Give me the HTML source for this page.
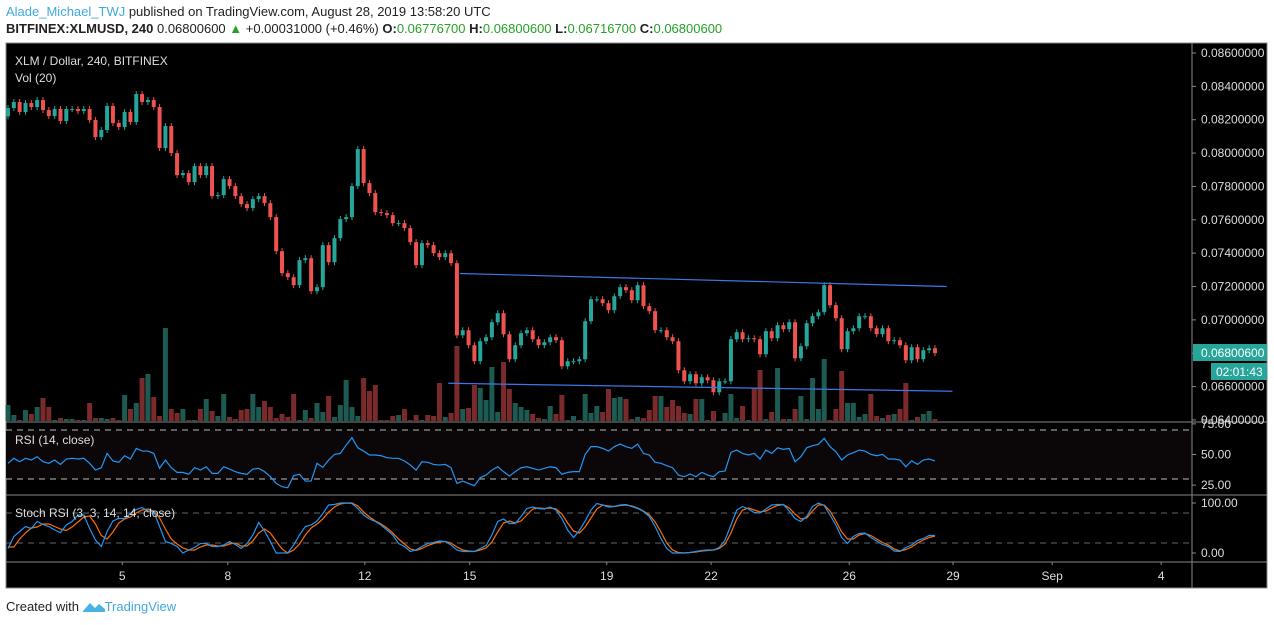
<!DOCTYPE html>
<html><head><meta charset="utf-8">
<style>
body{margin:0;width:1274px;height:625px;background:#fff;font-family:"Liberation Sans",sans-serif;overflow:hidden;position:relative}
.hdr{position:absolute;left:6px;font-size:13px;white-space:nowrap;color:#222}
.g{color:#27a027}
svg{position:absolute;left:0;top:0}
</style></head><body>
<div class="hdr" style="top:4px"><span style="color:#3fa9e0">Alade_Michael_TWJ</span> published on TradingView.com, August 28, 2019 13:58:20 UTC</div>
<div class="hdr" style="top:21px"><b>BITFINEX:XLMUSD, 240</b> 0.06800600 <span class="g">▲</span> +0.00031000 (+0.46%) <b>O:</b><span class="g">0.06776700</span> <b>H:</b><span class="g">0.06800600</span> <b>L:</b><span class="g">0.06716700</span> <b>C:</b><span class="g">0.06800600</span></div>
<svg id="chart" width="1274" height="625"></svg>
<div class="hdr" style="top:599px;font-size:13px">Created with <svg width="22" height="12" viewBox="0 0 22 12" style="position:relative;vertical-align:-1px"><path d="M0 11 L7 3 L12 8 L16 4 L22 9 L22 12 L0 12Z" fill="#49b3e6"/></svg><span style="color:#3fa9e0">TradingView</span></div>
<script>
const closes=[0.08270,0.08306,0.08246,0.08300,0.08276,0.08318,0.08258,0.08222,0.08264,0.08192,0.08264,0.08264,0.08252,0.08264,0.08198,0.08096,0.08138,0.08282,0.08180,0.08156,0.08246,0.08186,0.08354,0.08306,0.08318,0.08276,0.08030,0.08162,0.08000,0.07868,0.07880,0.07826,0.07922,0.07868,0.07922,0.07742,0.07748,0.07844,0.07802,0.07742,0.07694,0.07670,0.07724,0.07742,0.07700,0.07616,0.07412,0.07280,0.07256,0.07208,0.07358,0.07370,0.07172,0.07196,0.07448,0.07346,0.07490,0.07604,0.07616,0.07802,0.08024,0.07820,0.07760,0.07646,0.07640,0.07628,0.07580,0.07580,0.07550,0.07466,0.07328,0.07460,0.07448,0.07400,0.07376,0.07400,0.07340,0.06908,0.06938,0.06848,0.06752,0.06872,0.06896,0.06986,0.07040,0.06914,0.06764,0.06848,0.06920,0.06938,0.06884,0.06848,0.06866,0.06896,0.06878,0.06722,0.06752,0.06752,0.06764,0.06992,0.07124,0.07124,0.07100,0.07058,0.07142,0.07196,0.07178,0.07118,0.07208,0.07082,0.07052,0.06938,0.06938,0.06896,0.06872,0.06698,0.06632,0.06674,0.06620,0.06656,0.06638,0.06566,0.06632,0.06632,0.06884,0.06926,0.06884,0.06890,0.06884,0.06794,0.06932,0.06890,0.06968,0.06944,0.06986,0.06770,0.06842,0.06980,0.07022,0.07046,0.07208,0.07088,0.07010,0.06824,0.06932,0.06950,0.07022,0.07022,0.06950,0.06914,0.06950,0.06872,0.06878,0.06848,0.06758,0.06836,0.06764,0.06818,0.06830,0.068006];
const firstOpen=0.08220;
const volumes=[16,6,1,11,7,14,23,14,1,3,2,2,1,1,18,3,3,2,3,1,26,12,18,43,47,24,5,93,12,8,12,1,1,12,22,10,5,27,4,2,11,12,27,14,20,14,3,7,4,27,1,11,3,18,9,25,4,16,41,14,5,43,30,36,1,1,5,6,12,1,6,1,6,5,38,4,8,75,12,13,36,33,21,54,9,59,32,18,14,11,7,3,2,15,7,26,1,5,1,27,8,15,9,32,23,24,22,2,4,3,11,25,25,14,21,15,8,7,22,22,1,10,0,8,27,3,15,1,33,51,2,9,53,2,2,12,25,2,43,12,62,1,12,50,18,18,4,7,27,5,3,6,7,12,38,1,4,7,10,2];
const rsi=[42.8,46.9,44.1,46.9,45.5,48.2,44.1,42.8,45.5,41.9,46.3,46.9,46.3,46.9,42.8,37.3,39.2,50.9,44.7,43.6,49.0,46.3,55.0,52.8,52.8,50.9,38.7,45.5,39.2,35.4,35.4,33.8,39.2,37.3,40.0,34.6,34.6,40.0,38.1,36.0,34.6,33.8,38.1,38.7,36.0,31.9,26.4,23.7,22.9,32.7,33.8,28.3,28.3,42.8,39.5,45.5,50.1,50.9,57.7,63.7,55.5,52.8,49.6,49.6,49.0,47.4,46.9,46.9,44.7,41.4,37.3,44.1,43.6,41.9,41.4,41.9,39.2,26.4,28.3,26.4,24.5,31.1,33.2,37.3,40.0,36.0,32.4,36.0,39.2,40.0,38.7,37.3,38.7,40.0,39.2,33.8,35.4,36.0,36.0,50.1,56.4,56.4,55.0,52.8,56.4,58.5,56.4,55.0,58.5,50.9,49.6,43.6,42.8,40.9,39.2,33.2,31.9,34.1,31.9,35.4,33.2,31.9,36.0,36.5,51.7,53.6,50.9,49.6,50.9,46.3,53.6,50.9,55.5,54.2,55.0,44.1,48.2,55.5,57.2,58.3,63.2,56.4,52.3,45.5,49.6,51.5,53.6,52.8,50.1,49.0,50.1,46.3,46.3,45.5,40.0,44.9,41.9,45.5,46.3,44.7];
const stochK=[9,33,43,53,49,63,57,53,46,41,56,63,76,76,49,26,13,43,64,69,69,79,87,91,84,83,53,23,19,13,0,6,11,19,19,13,13,16,23,17,9,19,36,61,44,23,0,0,0,16,36,53,56,64,79,96,97,100,100,99,89,76,68,63,56,46,36,19,13,3,6,13,19,21,24,23,16,6,3,3,3,9,15,36,63,68,59,59,73,89,92,89,88,92,86,69,46,31,45,64,86,99,96,92,93,96,97,93,89,83,73,53,29,9,0,0,0,1,3,5,6,6,11,26,56,86,93,88,81,80,88,96,97,97,84,69,63,73,93,100,95,76,56,31,19,33,39,40,31,24,17,13,4,3,11,16,25,29,35,35];
const stochD=[12,12,28,40,50,52,58,58,53,48,45,52,62,72,74,58,35,28,42,60,68,72,80,86,88,84,70,48,28,18,10,6,6,12,16,16,14,14,18,20,14,14,24,40,48,40,24,8,0,6,18,36,50,58,68,82,92,98,100,100,94,82,72,64,58,50,40,28,18,8,5,9,15,19,22,23,20,12,6,4,3,6,10,22,42,60,64,60,64,76,88,90,89,90,88,78,60,44,40,52,70,88,96,94,93,95,96,94,90,84,76,62,42,20,6,1,0,1,2,4,5,6,9,18,40,68,86,90,86,82,84,90,95,97,90,78,68,70,84,96,96,84,64,42,28,28,36,39,35,28,21,16,8,4,7,12,20,26,31,34];
const dayLabels=["5","8","12","15","19","22","26","29","Sep","4"];
const dayIdx=[19.6,37.7,61.2,79.2,102.7,120.6,144.3,162.1,179.1,197.8];
const priceTicks=[0.086,0.084,0.082,0.080,0.078,0.076,0.074,0.072,0.070,0.068,0.066,0.064];
const upperLine=[[77.5,0.07278],[161,0.07200]];
const lowerLine=[[75.5,0.06620],[162,0.06572]];

const NS="http://www.w3.org/2000/svg";
const svg=document.getElementById('chart');
function el(tag,attrs,parent){const e=document.createElementNS(NS,tag);for(const k in attrs)e.setAttribute(k,attrs[k]);(parent||svg).appendChild(e);return e;}
const L=6,R=1192,RR=1267,T=43,MB=422,RB=495,SB=562,B=588;
const xs=i=>8+5.83*i;
const yp=p=>53+(0.086-p)/0.002*33.36;
const yv=v=>421-v;
const yr=v=>454.5-(v-50)*1.225;
const ys=v=>553-v*0.5;

const bg=el('rect',{x:L,y:T,width:RR-L,height:B-T,fill:'#000',stroke:'#888','stroke-width':1});


const rb=el('rect',{x:L,y:yr(70),width:R-L,height:yr(30)-yr(70),fill:'#0b0608'});



volumes.forEach((v,i)=>{const o=i?closes[i-1]:firstOpen;const up=closes[i]>=o;
 const r=el('rect',{x:xs(i)-2.5,y:yv(v),width:5,height:v,fill:up?'#1d5a52':'#7b2a2b'});
 
 });
closes.forEach((c,i)=>{const o=i?closes[i-1]:firstOpen;const up=c>=o;const col=up?'#26a69a':'#ef5350';
 const y1=yp(Math.max(o,c)),y2=yp(Math.min(o,c));
 const w=el('line',{x1:xs(i),x2:xs(i),y1:y1-3,y2:y2+3,stroke:col,'stroke-width':1});
 
 
 const b=el('rect',{x:xs(i)-2,y:y1,width:4,height:Math.max(1,y2-y1),fill:col});
 
 });
[upperLine,lowerLine].forEach((ln,k)=>{const l=el('line',{x1:xs(ln[0][0]),y1:yp(ln[0][1]),x2:xs(ln[1][0]),y2:yp(ln[1][1]),stroke:'#3a78e8','stroke-width':1.2});
 
 });
[[L,MB,RR,MB],[L,RB,RR,RB],[L,SB,RR,SB],[R,T,R,B]].forEach(s=>{const l=el('line',{x1:s[0],y1:s[1],x2:s[2],y2:s[3],stroke:'#888','stroke-width':1});
 
 });
[[yr(70)],[yr(30)],[ys(80)],[ys(20)]].forEach((d,k)=>{const l=el('line',{x1:L,x2:R,y1:d[0],y2:d[0],stroke:k<2?'#bbb':'#666','stroke-dasharray':'6,5','stroke-width':1});
 
 });
const rl=el('polyline',{points:rsi.map((v,i)=>xs(i)+','+yr(v)).join(' '),fill:'none',stroke:'#2196f3','stroke-width':1.2});


const dl=el('polyline',{points:stochD.map((v,i)=>xs(i)+','+ys(v)).join(' '),fill:'none',stroke:'#ff6d00','stroke-width':1.2});


const kl=el('polyline',{points:stochK.map((v,i)=>xs(i)+','+ys(v)).join(' '),fill:'none',stroke:'#2196f3','stroke-width':1.2});


function tx(s,x,y,attrs,name){const t=el('text',Object.assign({x:x,y:y,fill:'#ddd','font-size':12,'font-family':'Liberation Sans, sans-serif'},attrs||{}));t.textContent=s;
 
 return t;}
tx('XLM / Dollar, 240, BITFINEX',15,65,{},'main-legend');
tx('Vol (20)',15,82,{},'volume-legend');
tx('RSI (14, close)',15,444,{},'rsi-legend');
tx('Stoch RSI (3, 3, 14, 14, close)',15,517,{},'stoch-legend');
priceTicks.forEach(p=>{const y=yp(p);el('line',{x1:R,x2:R+4,y1:y,y2:y,stroke:'#888'});tx(p.toFixed(8),1201,y+4,{},'price-tick-label');});
[[75,yr(75)],[50,yr(50)],[25,yr(25)]].forEach(a=>{el('line',{x1:R,x2:R+4,y1:a[1],y2:a[1],stroke:'#888'});tx(a[0].toFixed(2),1201,a[1]+4,{},'rsi-tick-label');});
[[100,ys(100)],[0,ys(0)]].forEach(a=>{el('line',{x1:R,x2:R+4,y1:a[1],y2:a[1],stroke:'#888'});tx(a[0].toFixed(2),1201,a[1]+4,{},'stoch-tick-label');});
dayLabels.forEach((s,k)=>{const x=xs(dayIdx[k]);el('line',{x1:x,x2:x,y1:SB,y2:SB+3,stroke:'#888'});tx(s,x,580,{'text-anchor':'middle'},'time-tick-label');});
const lp=el('rect',{x:R+1,y:344,width:RR-R-1,height:17,fill:'#26a69a'});


tx('0.06800600',1201,357,{fill:'#fff'},'last-price-label');
const cd=el('rect',{x:1211,y:363,width:RR-1211,height:17,fill:'#26a69a'});


tx('02:01:43',1216,376,{fill:'#fff'},'countdown-label');
</script>
</body></html>
